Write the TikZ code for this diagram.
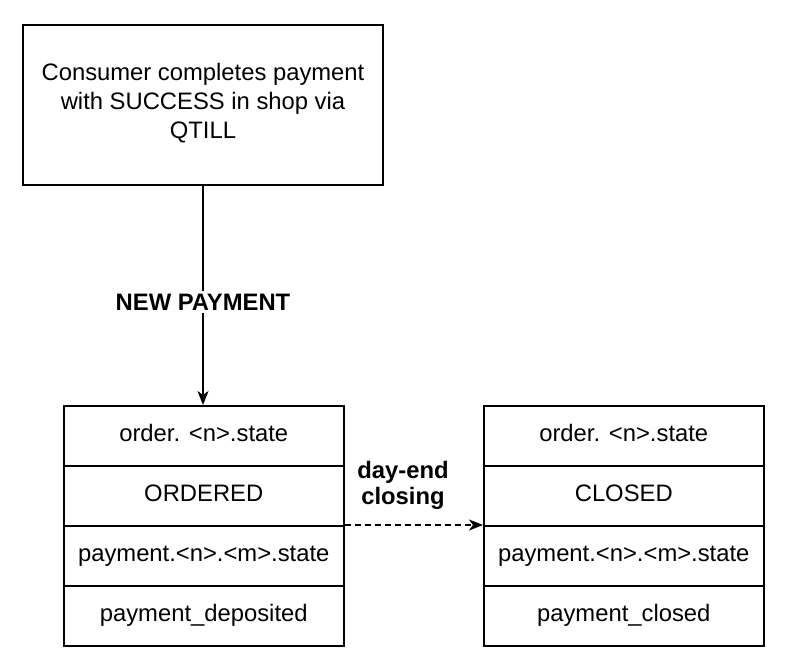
\documentclass[tikz,border=0pt]{standalone}
\usepackage{fontspec}
\setmainfont{Liberation Sans}
\usetikzlibrary{arrows.meta}
\begin{document}
\begin{tikzpicture}[x=1pt,y=-1pt,
  box/.style={draw,line width=1.5pt,minimum width=280pt,minimum height=60pt,inner sep=0pt,text height=17pt,text depth=5pt,font=\fontsize{23.8}{29}\selectfont,anchor=north west},
  lbl/.style={font=\bfseries\fontsize{23.8}{26}\selectfont,fill=white,align=center,inner sep=3pt},
  conn/.style={line width=1.5pt,-{Stealth[length=14pt,width=11pt,inset=4pt]}}]
\useasboundingbox (0,0) rectangle (790,670);
\node[draw,line width=1.5pt,minimum width=360pt,minimum height=160pt,inner sep=0pt] (top) at (203,105) {};
\node[align=center,font=\fontsize{23.8}{29}\selectfont,inner sep=0pt] (toptxt) at (203,103) {Consumer completes payment\\with SUCCESS in shop via\\QTILL};
% left table
\node[box] (l1) at (63,405) {order. <n>.state};
\node[box] (l2) at (63,465) {ORDERED};
\node[box] (l3) at (63,525) {payment.<n>.<m>.state};
\node[box] (l4) at (63,585) {payment\_deposited};
% right table
\node[box] (r1) at (483,405) {order. <n>.state};
\node[box] (r2) at (483,465) {CLOSED};
\node[box] (r3) at (483,525) {payment.<n>.<m>.state};
\node[box] (r4) at (483,585) {payment\_closed};
% connectors
\draw[conn] (top.south) -- (top.south |- l1.north) node[lbl,pos=0.53] (np) {NEW PAYMENT};
\draw[conn,dashed,dash pattern=on 6pt off 4pt] (l3.north east) -- (r3.north west);
\node[lbl,fill=none] (dc) at (403,485) {day-end\\closing};
\end{tikzpicture}
\end{document}
